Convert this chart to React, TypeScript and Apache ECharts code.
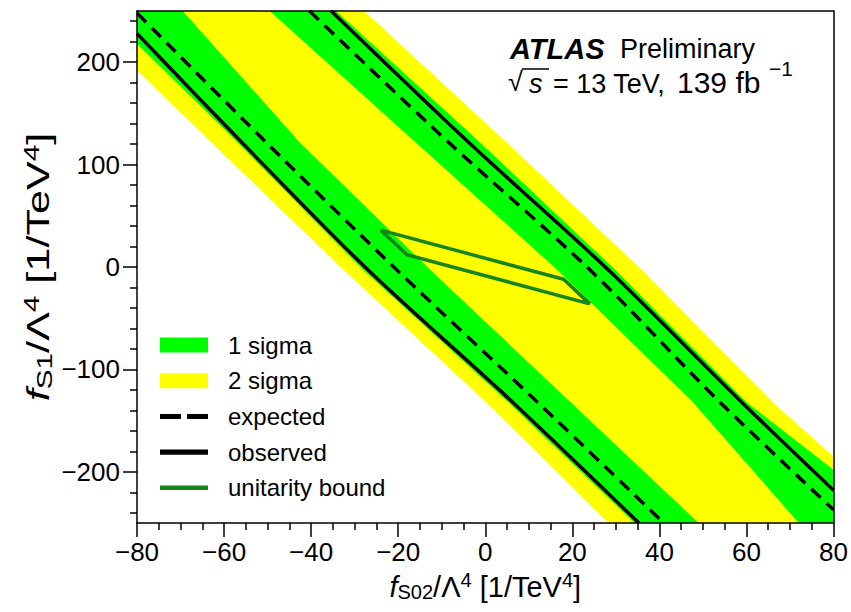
import React, { useEffect, useRef } from 'react';
import * as echarts from 'echarts';

// axis ranges and ticks
const X_MIN = -80;
const X_MAX = 80;
const X_STEP = 20;
const Y_MIN = -250;
const Y_MAX = 250;
const Y_STEP = 50;
const yMajorTicks = [-200, -100, 0, 100, 200];
const yMinorTicks = [-240, -220, -180, -160, -140, -120, -80, -60, -40, -20, 20, 40, 60, 80, 120, 140, 160, 180, 220, 240];

// contour edges [fS02, fS1]
const lowerYellowEdge = [[-80, 192], [-63, 122], [-32.5, -3], [0.2, -132], [28.3, -250]];
const lowerGreenOuter = [[-80, 218], [-57, 122], [-28, -3], [5.3, -132], [34.3, -250]];
const lowerGreenInner = [[-69.5, 250], [-42.7, 122], [-12.6, -3], [19.6, -132], [49, -250]];
const upperGreenInner = [[-49.5, 250], [-16.1, 122], [16.6, -3], [47.7, -132], [72, -250]];
const upperGreenOuter = [[-34.3, 250], [-1.3, 122], [29.9, -3], [60, -132], [80, -198]];
const upperYellowEdge = [[-27.8, 250], [4.8, 122], [36, -3], [66, -132], [80, -185]];

const lowerObserved = [[-80, 228], [-56, 122], [-26.9, -3], [6.3, -132], [35.3, -250]];
const lowerExpected = [[-80, 248], [-50.4, 122], [-20.3, -3], [12, -132], [41, -250]];
const upperObserved = [[-35.4, 250], [-3.9, 122], [28.3, -3], [58.9, -132], [80, -218]];
const upperExpected = [[-40.4, 250], [-8.5, 122], [24.1, -3], [53.9, -132], [80, -237]];

const unitarityBound = [[-24, 36], [18, -12], [24, -36], [-18, 12], [-24, 36]];

const legendNames = ['1 sigma', '2 sigma', 'expected', 'observed', 'unitarity bound'];

const FONT = 'Liberation Sans';
const GREEN = '#00ff00';
const YELLOW = '#ffff00';
const DARKGREEN = '#16861a';

const yellowPolygons = [
  [...lowerYellowEdge, [X_MAX, Y_MIN], ...[...upperYellowEdge].reverse(), [X_MIN, Y_MAX]],
];
const greenPolygons = [
  [...lowerGreenOuter, ...[...lowerGreenInner].reverse(), [X_MIN, Y_MAX]],
  [...upperGreenInner, [X_MAX, Y_MIN], ...[...upperGreenOuter].reverse()],
];

const fmt = (v: number) => (v < 0 ? '\u2212' + Math.abs(v) : String(v));

const bandSeries = (name: string, polys: number[][][], color: string, z: number) => ({
  type: 'custom',
  name,
  z,
  clip: true,
  silent: true,
  itemStyle: { color },
  data: polys.map(() => [0, 0]),
  renderItem: (params: any, api: any) => ({
    type: 'polygon',
    shape: { points: polys[params.dataIndex].map((p) => api.coord(p)) },
    style: { fill: color, stroke: null },
  }),
});

const lineSeries = (name: string, data: number[][], color: string, width: number, type: any, z: number, smooth: number) => ({
  type: 'line',
  name,
  z,
  data,
  smooth,
  symbol: 'none',
  silent: true,
  itemStyle: { color },
  lineStyle: { color, width, type },
});

const axisName = (sub: string) => `{i|f}{sub|${sub}}/Λ{sup|4} [1/TeV{sup|4}]`;
const makeRich = (big: number, small: number, down: number, up: number) => ({
  i: { fontStyle: 'italic', fontSize: big, fontFamily: FONT, color: '#000' },
  sub: { fontSize: small, fontFamily: FONT, color: '#000', padding: [down, 0, 0, 0] },
  sup: { fontSize: small, fontFamily: FONT, color: '#000', padding: [0, 0, up, 0] },
});

export default function App() {
  const ref = useRef<HTMLDivElement>(null);
  useEffect(() => {
    if (!ref.current) return;
    const chart = echarts.init(ref.current, null, { renderer: 'svg' });
    const blackLine = { color: '#000', width: 1.5 };
    chart.setOption({
      animation: false,
      backgroundColor: '#fff',
      textStyle: { fontFamily: FONT },
      grid: { left: 137, right: 15, top: 11, bottom: 89, containLabel: false },
      xAxis: [
        {
          type: 'value',
          position: 'bottom',
          min: X_MIN,
          max: X_MAX,
          interval: X_STEP,
          z: 10,
          axisLine: { onZero: false, lineStyle: blackLine },
          axisTick: { length: 14, lineStyle: blackLine },
          minorTick: { show: true, splitNumber: 4, length: 7, lineStyle: blackLine },
          splitLine: { show: false },
          axisLabel: { fontSize: 26, color: '#000', margin: 16, formatter: fmt, fontFamily: FONT },
          name: axisName('S02'),
          nameLocation: 'middle',
          nameGap: 47,
          nameTextStyle: { fontSize: 29, color: '#000', fontFamily: FONT, rich: makeRich(29, 20, 11, 13) },
        },
        {
          type: 'value',
          position: 'top',
          min: X_MIN,
          max: X_MAX,
          interval: X_STEP,
          z: 10,
          axisLine: { onZero: false, lineStyle: blackLine },
          axisTick: { show: false },
          axisLabel: { show: false },
          splitLine: { show: false },
        },
      ],
      yAxis: [
        {
          type: 'value',
          position: 'left',
          min: Y_MIN,
          max: Y_MAX,
          interval: Y_STEP,
          z: 10,
          axisLine: { onZero: false, lineStyle: blackLine },
          axisTick: { length: 14, lineStyle: blackLine, customValues: yMajorTicks },
          splitLine: { show: false },
          axisLabel: { fontSize: 26, color: '#000', margin: 17, formatter: fmt, customValues: yMajorTicks, fontFamily: FONT },
        },
        {
          type: 'value',
          position: 'left',
          min: Y_MIN,
          max: Y_MAX,
          interval: Y_STEP,
          z: 10,
          axisLine: { show: false, onZero: false },
          axisTick: { length: 7, lineStyle: blackLine, customValues: yMinorTicks },
          axisLabel: { show: false },
          splitLine: { show: false },
        },
        {
          type: 'value',
          position: 'right',
          min: Y_MIN,
          max: Y_MAX,
          interval: Y_STEP,
          z: 10,
          axisLine: { onZero: false, lineStyle: blackLine },
          axisTick: { show: false },
          axisLabel: { show: false },
          splitLine: { show: false },
        },
      ],
      legend: {
        orient: 'vertical',
        left: 155,
        top: 328,
        itemWidth: 48,
        itemHeight: 15,
        itemGap: 11.7,
        selectedMode: false,
        itemStyle: { borderWidth: 0 },
        textStyle: { fontSize: 24, color: '#000', fontFamily: FONT, padding: [0, 0, 0, 15] },
        data: [
          { name: legendNames[0], icon: 'rect' },
          { name: legendNames[1], icon: 'rect' },
          { name: legendNames[2], icon: 'path://M0,0h21v5h-21z M27,0h21v5h-21z' },
          { name: legendNames[3], icon: 'path://M0,0h55v6h-55z' },
          { name: legendNames[4], icon: 'path://M0,0h55v5h-55z' },
        ],
      },
      graphic: [
        { type: 'text', left: 510, top: 34, z: 20, style: { text: 'ATLAS', font: `italic bold 29px "${FONT}"`, fill: '#000' } },
        { type: 'text', left: 620, top: 35, z: 20, style: { text: 'Preliminary', font: `27px "${FONT}"`, fill: '#000' } },
        { type: 'text', left: 508, top: 68, z: 20, style: { text: '√', font: `27px "${FONT}"`, fill: '#000' } },
        { type: 'text', left: 529, top: 70, z: 20, style: { text: 's', font: `italic 27px "${FONT}"`, fill: '#000' } },
        { type: 'line', z: 20, shape: { x1: 522, y1: 69, x2: 549, y2: 69 }, style: { stroke: '#000', lineWidth: 1.5 } },
        { type: 'text', left: 553, top: 70, z: 20, style: { text: '= 13 TeV,', font: `27px "${FONT}"`, fill: '#000' } },
        { type: 'text', left: 677, top: 67, z: 20, style: { text: '139 fb', font: `30px "${FONT}"`, fill: '#000' } },
        { type: 'text', left: 769, top: 58, z: 20, style: { text: '\u22121', font: `21px "${FONT}"`, fill: '#000' } },
        {
          type: 'text',
          x: 38,
          y: 267,
          rotation: Math.PI / 2,
          scaleX: 1.35,
          z: 20,
          style: {
            text: axisName('S1'),
            fontSize: 32,
            fontFamily: FONT,
            fill: '#000',
            align: 'center',
            verticalAlign: 'middle',
            rich: makeRich(32, 22, 12, 14),
          },
        },
      ],
      series: [
        bandSeries(legendNames[1], yellowPolygons, YELLOW, 1),
        bandSeries(legendNames[0], greenPolygons, GREEN, 2),
        lineSeries(legendNames[2], lowerExpected, '#000', 3.5, [13, 8], 3, 0.3),
        lineSeries(legendNames[2], upperExpected, '#000', 3.5, [13, 8], 3, 0.3),
        lineSeries(legendNames[3], lowerObserved, '#000', 3.5, 'solid', 3, 0.3),
        lineSeries(legendNames[3], upperObserved, '#000', 3.5, 'solid', 3, 0.3),
        lineSeries(legendNames[4], unitarityBound, DARKGREEN, 3.5, 'solid', 4, 0),
      ],
    });
    return () => chart.dispose();
  }, []);
  return <div ref={ref} style={{ position: 'absolute', left: 0, top: 0, width: 851, height: 612 }} />;
}
